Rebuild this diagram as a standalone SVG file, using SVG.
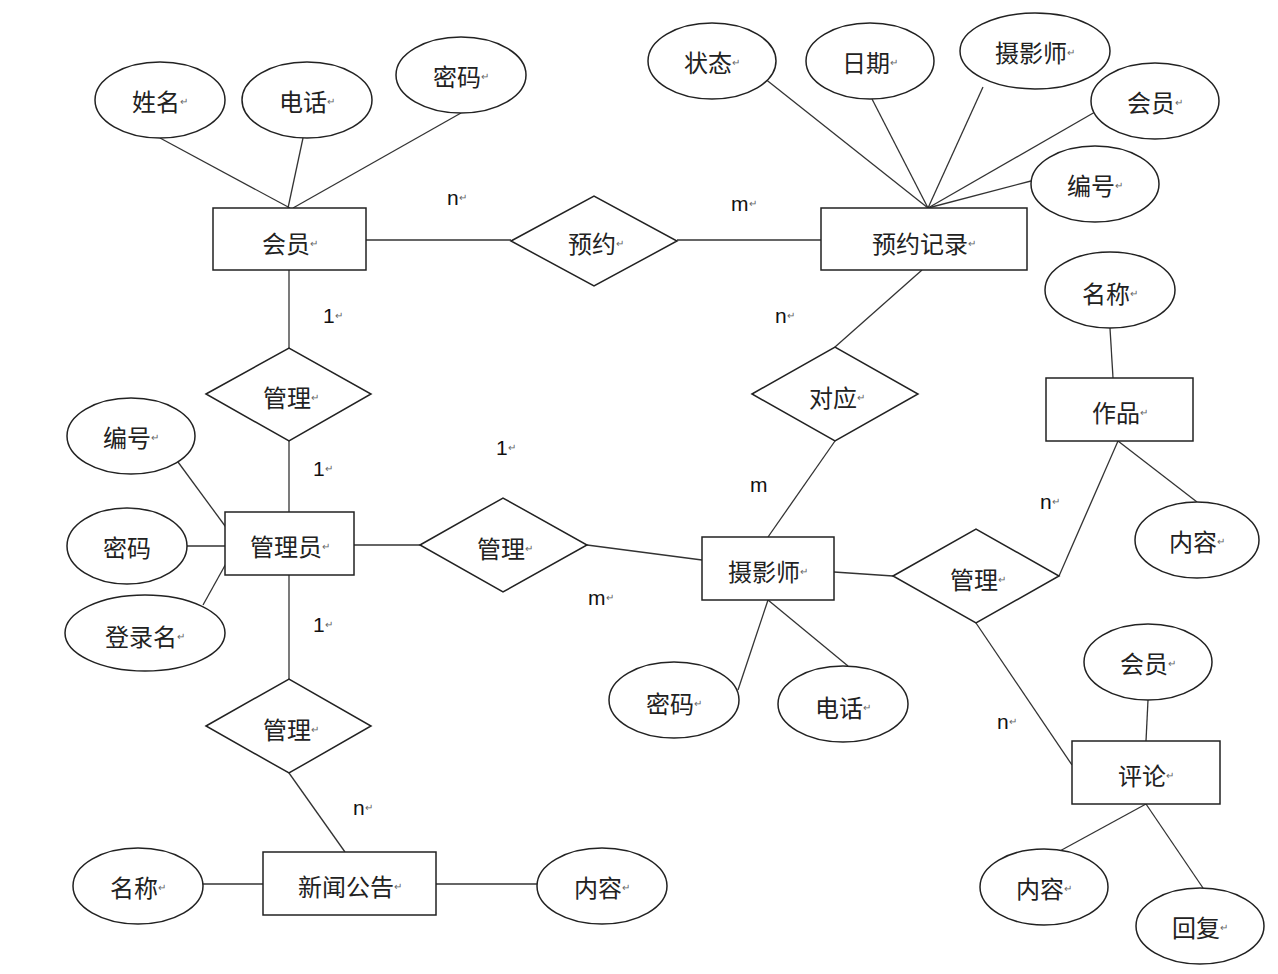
<svg xmlns="http://www.w3.org/2000/svg" width="1278" height="974" viewBox="0 0 1278 974">
<style>
.s{fill:#fff;stroke:#222;stroke-width:1.5}
.t{font-family:"Noto Sans CJK SC","Liberation Sans",sans-serif;font-size:24px;fill:#222;text-anchor:middle;dominant-baseline:central}
.r{font-size:10px;fill:#666}
.c line{stroke:#333;stroke-width:1.3}
.l{font-family:"Liberation Sans",sans-serif;font-size:21px;fill:#111;dominant-baseline:central}
</style>
<rect width="1278" height="974" fill="#fff"/>
<g class="c" id="connectors">
<line x1="160" y1="138" x2="290" y2="208"/><line x1="303" y1="138" x2="288" y2="208"/><line x1="461" y1="113" x2="293" y2="208"/>
<line x1="366" y1="240" x2="511" y2="240"/><line x1="677" y1="240" x2="821" y2="240"/>
<line x1="289" y1="270" x2="289" y2="348"/><line x1="289" y1="441" x2="289" y2="512"/>
<line x1="178" y1="462" x2="228" y2="530"/><line x1="187" y1="546" x2="225" y2="546"/><line x1="203" y1="605" x2="228" y2="560"/>
<line x1="354" y1="545" x2="420" y2="545"/><line x1="587" y1="545" x2="702" y2="560"/>
<line x1="289" y1="575" x2="289" y2="679"/><line x1="289" y1="773" x2="345" y2="852"/>
<line x1="203" y1="884" x2="263" y2="884"/><line x1="436" y1="884" x2="537" y2="884"/>
<line x1="922" y1="270" x2="835" y2="347"/><line x1="835" y1="441" x2="768" y2="537"/>
<line x1="764" y1="78" x2="928" y2="208"/><line x1="872" y1="99" x2="928" y2="208"/><line x1="983" y1="87" x2="928" y2="208"/><line x1="1095" y1="112" x2="928" y2="208"/><line x1="1031" y1="181" x2="928" y2="208"/>
<line x1="768" y1="600" x2="738" y2="690"/><line x1="768" y1="600" x2="848" y2="666"/>
<line x1="834" y1="572" x2="893" y2="576"/><line x1="1059" y1="576" x2="1118" y2="441"/>
<line x1="1113" y1="378" x2="1110" y2="328"/><line x1="1118" y1="441" x2="1197" y2="502"/>
<line x1="976" y1="623" x2="1072" y2="765"/>
<line x1="1148" y1="700" x2="1146" y2="741"/><line x1="1146" y1="804" x2="1058" y2="852"/><line x1="1146" y1="804" x2="1203" y2="888"/>
</g>
<g id="labels">
<text class="l" x="447" y="197">n<tspan class="r">↵</tspan></text>
<text class="l" x="731" y="203">m<tspan class="r">↵</tspan></text>
<text class="l" x="323" y="315">1<tspan class="r">↵</tspan></text>
<text class="l" x="775" y="315">n<tspan class="r">↵</tspan></text>
<text class="l" x="496" y="447">1<tspan class="r">↵</tspan></text>
<text class="l" x="313" y="468">1<tspan class="r">↵</tspan></text>
<text class="l" x="750" y="484">m</text>
<text class="l" x="1040" y="501">n<tspan class="r">↵</tspan></text>
<text class="l" x="588" y="597">m<tspan class="r">↵</tspan></text>
<text class="l" x="313" y="624">1<tspan class="r">↵</tspan></text>
<text class="l" x="997" y="721">n<tspan class="r">↵</tspan></text>
<text class="l" x="353" y="807">n<tspan class="r">↵</tspan></text>
</g>
<g id="e-huiyuan"><rect class="s" x="213" y="208" width="153" height="62"/><text class="t" x="290" y="242">会员<tspan class="r">↵</tspan></text></g>
<g id="e-yuyuejilu"><rect class="s" x="821" y="208" width="206" height="62"/><text class="t" x="924" y="242">预约记录<tspan class="r">↵</tspan></text></g>
<g id="e-zuopin"><rect class="s" x="1046" y="378" width="147" height="63"/><text class="t" x="1120" y="411">作品<tspan class="r">↵</tspan></text></g>
<g id="e-guanliyuan"><rect class="s" x="225" y="512" width="129" height="63"/><text class="t" x="290" y="545">管理员<tspan class="r">↵</tspan></text></g>
<g id="e-sheyingshi"><rect class="s" x="702" y="537" width="132" height="63"/><text class="t" x="768" y="570">摄影师<tspan class="r">↵</tspan></text></g>
<g id="e-pinglun"><rect class="s" x="1072" y="741" width="148" height="63"/><text class="t" x="1146" y="774">评论<tspan class="r">↵</tspan></text></g>
<g id="e-xinwen"><rect class="s" x="263" y="852" width="173" height="63"/><text class="t" x="350" y="885">新闻公告<tspan class="r">↵</tspan></text></g>
<g id="r-yuyue"><polygon class="s" points="511,241 594,196 677,241 594,286"/><text class="t" x="596" y="242">预约<tspan class="r">↵</tspan></text></g>
<g id="r-guanli1"><polygon class="s" points="206,394 289,348 371,394 289,441"/><text class="t" x="291" y="396">管理<tspan class="r">↵</tspan></text></g>
<g id="r-duiying"><polygon class="s" points="752,394 835,347 918,394 835,441"/><text class="t" x="837" y="396">对应<tspan class="r">↵</tspan></text></g>
<g id="r-guanli2"><polygon class="s" points="420,545 503,498 587,545 503,592"/><text class="t" x="505" y="547">管理<tspan class="r">↵</tspan></text></g>
<g id="r-guanli3"><polygon class="s" points="893,576 976,529 1059,576 976,623"/><text class="t" x="978" y="578">管理<tspan class="r">↵</tspan></text></g>
<g id="r-guanli4"><polygon class="s" points="206,726 289,679 371,726 289,773"/><text class="t" x="291" y="728">管理<tspan class="r">↵</tspan></text></g>
<g id="a1"><ellipse class="s" cx="160" cy="100" rx="65" ry="38"/><text class="t" x="160" y="100">姓名<tspan class="r">↵</tspan></text></g>
<g id="a2"><ellipse class="s" cx="307" cy="100" rx="65" ry="38"/><text class="t" x="307" y="100">电话<tspan class="r">↵</tspan></text></g>
<g id="a3"><ellipse class="s" cx="461" cy="75" rx="65" ry="38"/><text class="t" x="461" y="75">密码<tspan class="r">↵</tspan></text></g>
<g id="a4"><ellipse class="s" cx="712" cy="61" rx="64" ry="38"/><text class="t" x="712" y="61">状态<tspan class="r">↵</tspan></text></g>
<g id="a5"><ellipse class="s" cx="870" cy="61" rx="64" ry="38"/><text class="t" x="870" y="61">日期<tspan class="r">↵</tspan></text></g>
<g id="a6"><ellipse class="s" cx="1035" cy="51" rx="75" ry="38"/><text class="t" x="1035" y="51">摄影师<tspan class="r">↵</tspan></text></g>
<g id="a7"><ellipse class="s" cx="1155" cy="101" rx="64" ry="38"/><text class="t" x="1155" y="101">会员<tspan class="r">↵</tspan></text></g>
<g id="a8"><ellipse class="s" cx="1095" cy="184" rx="64" ry="38"/><text class="t" x="1095" y="184">编号<tspan class="r">↵</tspan></text></g>
<g id="a9"><ellipse class="s" cx="1110" cy="290" rx="65" ry="38"/><text class="t" x="1110" y="292">名称<tspan class="r">↵</tspan></text></g>
<g id="a10"><ellipse class="s" cx="1197" cy="540" rx="62" ry="38"/><text class="t" x="1197" y="540">内容<tspan class="r">↵</tspan></text></g>
<g id="a11"><ellipse class="s" cx="131" cy="436" rx="64" ry="38"/><text class="t" x="131" y="436">编号<tspan class="r">↵</tspan></text></g>
<g id="a12"><ellipse class="s" cx="127" cy="546" rx="60" ry="38"/><text class="t" x="127" y="546">密码</text></g>
<g id="a13"><ellipse class="s" cx="145" cy="633" rx="80" ry="38"/><text class="t" x="145" y="635">登录名<tspan class="r">↵</tspan></text></g>
<g id="a14"><ellipse class="s" cx="674" cy="700" rx="65" ry="38"/><text class="t" x="674" y="702">密码<tspan class="r">↵</tspan></text></g>
<g id="a15"><ellipse class="s" cx="843" cy="704" rx="65" ry="38"/><text class="t" x="843" y="706">电话<tspan class="r">↵</tspan></text></g>
<g id="a16"><ellipse class="s" cx="1148" cy="662" rx="64" ry="38"/><text class="t" x="1148" y="662">会员<tspan class="r">↵</tspan></text></g>
<g id="a17"><ellipse class="s" cx="1044" cy="887" rx="64" ry="38"/><text class="t" x="1044" y="887">内容<tspan class="r">↵</tspan></text></g>
<g id="a18"><ellipse class="s" cx="1200" cy="926" rx="64" ry="38"/><text class="t" x="1200" y="926">回复<tspan class="r">↵</tspan></text></g>
<g id="a19"><ellipse class="s" cx="138" cy="886" rx="65" ry="38"/><text class="t" x="138" y="886">名称<tspan class="r">↵</tspan></text></g>
<g id="a20"><ellipse class="s" cx="602" cy="886" rx="65" ry="38"/><text class="t" x="602" y="886">内容<tspan class="r">↵</tspan></text></g>
</svg>
